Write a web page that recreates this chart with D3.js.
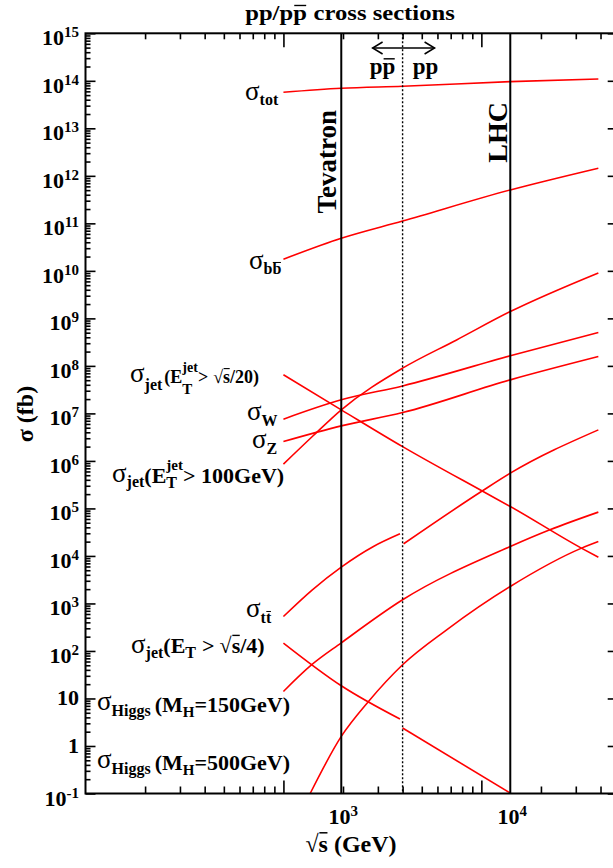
<!DOCTYPE html>
<html>
<head>
<meta charset="utf-8">
<script src="https://cdn.jsdelivr.net/npm/d3@7"></script>
<style>
  body { margin: 0; background: #fff; }
  text { font-family: "Liberation Serif", "Times New Roman", serif; fill: #000; }
</style>
</head>
<body>
<svg id="chart" width="613" height="868" font-family="Liberation Serif, Times New Roman, serif"></svg>
<script>
// ---- data: sqrt(s) in GeV, sigma in fb ----
const xDomain = [100, 50000];
const yDomain = [0.1, 1e15];

const tevatronE = 1960;     // Tevatron sqrt(s)
const lhcE = 14000;         // LHC sqrt(s)
const switchE = 4000;       // p-pbar below, p-p above

const sigmaTot      = [[1000,5.74e13],[1960,6.97e13],[4000,7.67e13],[14000,9.6e13],[39000,1.09e14]];
const sigmaBB       = [[1000,1.76e10],[1960,4.86e10],[4000,1.12e11],[14000,5.05e11],[39000,1.45e12]];
const sigmaJetS20   = [[1000,6.5e7],[1960,1.19e7],[4000,2.0e6],[10000,2.38e5],[14000,1.1e5],[32000,1.46e4],[39000,9.4e3]];
const sigmaW        = [[1000,7.57e6],[1960,1.93e7],[4000,3.79e7],[14000,1.63e8],[39000,5.02e8]];
const sigmaZ        = [[1000,2.56e6],[1960,5.47e6],[4000,1.04e7],[14000,5.08e7],[39000,1.57e8]];
const sigmaJet100   = [[1000,8.55e5],[1400,3.26e6],[1960,1.19e7],[4000,8.95e7],[7500,3.52e8],[14000,1.39e9],[39000,9.05e9]];
const sigmaTTppbar  = [[1000,532],[1400,1.94e3],[1960,5.82e3],[2850,1.58e4],[3880,2.92e4]];
const sigmaTTpp     = [[4050,1.8e4],[10000,2.27e5],[14000,5.52e5],[39000,4.5e6]];
const sigmaJetS4ppbar = [[1000,146.6],[1960,18.5],[3880,3.69]];
const sigmaJetS4pp    = [[4000,2.39],[14000,0.102]];
const sigmaH150     = [[1000,14.06],[1390,51.3],[1960,148],[4000,1194],[14000,1.58e4],[22200,3.55e4],[39000,8.36e4]];
const sigmaH500     = [[1365,0.1],[1960,1.59],[2690,8.65],[4000,51.3],[6680,279],[14000,2280],[32100,1.46e4],[39000,2.01e4]];

const curves = [sigmaTot, sigmaBB, sigmaJetS20, sigmaW, sigmaZ, sigmaJet100,
                sigmaTTppbar, sigmaTTpp, sigmaJetS4ppbar, sigmaJetS4pp, sigmaH150, sigmaH500];

// axis tick values
const xMajorTicks = [1000, 10000];
const xMinorTicks = [];
[100, 1000, 10000].forEach(d => d3.range(2, 10).forEach(m => { if (d * m < xDomain[1]) xMinorTicks.push(d * m); }));
const yExponents = d3.range(-1, 16);
const yMajorTicks = yExponents.map(e => Math.pow(10, e));
const yMinorTicks = [];
d3.range(-1, 15).forEach(e => d3.range(2, 10).forEach(m => yMinorTicks.push(m * Math.pow(10, e))));

// labelled x positions on the bottom axis and their powers of ten
const xLabelSites = [tevatronE, lhcE];
const xLabelPowers = ["3", "4"];

// ---- layout ----
const svg = d3.select("#chart");
const plot = { left: 85.5, right: 619.7, top: 33.3, bottom: 793.5 };
const x = d3.scaleLog().domain(xDomain).range([plot.left, plot.right]);
const y = d3.scaleLog().domain(yDomain).range([plot.bottom, plot.top]);

svg.append("defs").append("clipPath").attr("id", "plotClip")
  .append("rect").attr("x", plot.left).attr("y", plot.top)
  .attr("width", plot.right - plot.left).attr("height", plot.bottom - plot.top);

// curves
const line = d3.line().x(d => x(d[0])).y(d => y(d[1])).curve(d3.curveMonotoneX);
svg.append("g").attr("clip-path", "url(#plotClip)")
  .selectAll("path").data(curves).join("path")
  .attr("d", line).attr("fill", "none").attr("stroke", "#ff0000").attr("stroke-width", 1.6);

// collider lines
[tevatronE, lhcE].forEach(e => {
  svg.append("line").attr("x1", x(e)).attr("x2", x(e)).attr("y1", plot.top).attr("y2", plot.bottom)
    .attr("stroke", "#000").attr("stroke-width", 2);
});
svg.append("line").attr("x1", x(switchE)).attr("x2", x(switchE)).attr("y1", plot.top).attr("y2", plot.bottom)
  .attr("stroke", "#000").attr("stroke-width", 1.4).attr("stroke-dasharray", "2,2");

// ticks
function tickSet(axis, values, size, transform) {
  const g = svg.append("g").attr("transform", transform)
    .call(axis.tickValues(values).tickSize(size).tickFormat(""));
  g.select(".domain").remove();
  g.selectAll("line").attr("stroke", "#000").attr("stroke-width", 1.6);
}
tickSet(d3.axisTop(x), xMajorTicks, 13, `translate(0,${plot.bottom})`);
tickSet(d3.axisTop(x), xMinorTicks, 7, `translate(0,${plot.bottom})`);
tickSet(d3.axisBottom(x), xMajorTicks, 14, `translate(0,${plot.top})`);
tickSet(d3.axisBottom(x), xMinorTicks, 6, `translate(0,${plot.top})`);
tickSet(d3.axisRight(y), yMajorTicks, 10, `translate(${plot.left},0)`);
tickSet(d3.axisRight(y), yMinorTicks, 5, `translate(${plot.left},0)`);
tickSet(d3.axisLeft(y), yMajorTicks, 12, `translate(${plot.right},0)`);

// frame
svg.append("rect").attr("x", plot.left).attr("y", plot.top)
  .attr("width", plot.right - plot.left).attr("height", plot.bottom - plot.top)
  .attr("fill", "none").attr("stroke", "#000").attr("stroke-width", 2);

// y tick labels
yExponents.forEach(e => {
  const t = svg.append("text").attr("text-anchor", "end").attr("x", 79)
    .style("font-size", "22px").style("font-weight", "bold");
  if (e === 0 || e === 1) {
    t.attr("y", y(Math.pow(10, e)) + 7).text(e === 0 ? "1" : "10");
  } else {
    t.attr("y", y(Math.pow(10, e)) + 12);
    t.append("tspan").text("10");
    t.append("tspan").attr("dy", -8).style("font-size", "15px").text(String(e));
  }
});

// x tick labels
xLabelSites.forEach((v, i) => {
  const t = svg.append("text").attr("text-anchor", "middle").attr("x", x(v) + 2).attr("y", 824)
    .style("font-size", "22px").style("font-weight", "bold");
  t.append("tspan").text("10");
  t.append("tspan").attr("dy", -8).style("font-size", "15px").text(xLabelPowers[i]);
});

// rich text: sequential segments with sub/superscripts, stacked pairs and bars
function richText(segs, opts) {
  const outer = svg.append("g");
  const g = outer.append("g");
  let cx = 0, stackW = 0;
  segs.forEach(s => {
    const size = s.size || opts.size || 22;
    const gap = s.gap || 0;
    const t = g.append("text").attr("x", cx + gap).attr("y", s.dy || 0)
      .style("font-size", size + "px").style("font-weight", s.weight || "bold").text(s.t);
    const w = t.node().getComputedTextLength();
    if (s.bar) {
      const by = (s.dy || 0) - size * (s.barH || 0.72);
      g.append("line").attr("x1", cx + gap + w * 0.08).attr("x2", cx + gap + w * 0.95)
        .attr("y1", by).attr("y2", by).attr("stroke", "#000").attr("stroke-width", Math.max(1, size / 16));
    }
    if (s.stack) { stackW = Math.max(stackW, w + gap); }
    else { cx += Math.max(w + gap, stackW); stackW = 0; }
  });
  const sx = opts.sx || 1;
  const width = cx * sx;
  let tx = opts.x;
  if (opts.anchor === "middle") tx -= width / 2;
  if (opts.anchor === "end") tx -= width;
  outer.attr("transform", `translate(${tx},${opts.y})`);
  g.attr("transform", `scale(${sx},1)`);
  return outer;
}

const sig = { t: "σ", size: 27, weight: "normal" };

// title
richText([{ t: "pp/p" }, { t: "p", bar: true, barH: 0.66 }, { t: "cross sections", gap: 6 }],
  { x: 350, y: 20, anchor: "middle", size: 22, sx: 1.12 });

// axis titles
richText([{ t: "√", weight: "normal" }, { t: "s", bar: true, barH: 0.8 }, { t: "(GeV)", gap: 6 }],
  { x: 351, y: 852, anchor: "middle", size: 24 });
svg.append("text").attr("transform", "translate(33,414) rotate(-90)").attr("text-anchor", "middle")
  .style("font-size", "24px").style("font-weight", "bold").text("σ (fb)");

// collider names
svg.append("text").attr("transform", `translate(${x(tevatronE) - 5},110) rotate(-90)`).attr("text-anchor", "end")
  .style("font-size", "27px").style("font-weight", "bold").text("Tevatron");
svg.append("text").attr("transform", `translate(${x(lhcE) - 3},102) rotate(-90)`).attr("text-anchor", "end")
  .style("font-size", "28px").style("font-weight", "bold").text("LHC");

// p-pbar / p-p arrow
const arrowY = 48, aL = x(switchE) - 30, aR = x(switchE) + 32;
svg.append("line").attr("x1", aL).attr("x2", aR).attr("y1", arrowY).attr("y2", arrowY)
  .attr("stroke", "#000").attr("stroke-width", 1.5);
svg.append("path").attr("d", `M${aL + 10},${arrowY - 6}L${aL},${arrowY}L${aL + 10},${arrowY + 6}`)
  .attr("fill", "none").attr("stroke", "#000").attr("stroke-width", 1.5);
svg.append("path").attr("d", `M${aR - 10},${arrowY - 6}L${aR},${arrowY}L${aR - 10},${arrowY + 6}`)
  .attr("fill", "none").attr("stroke", "#000").attr("stroke-width", 1.5);
richText([{ t: "p" }, { t: "p", bar: true, barH: 0.66 }], { x: x(switchE) - 20, y: 74, anchor: "middle", size: 23 });
richText([{ t: "pp" }], { x: x(switchE) + 23, y: 74, anchor: "middle", size: 23 });

// curve labels
richText([sig, { t: "tot", size: 16, dy: 5 }], { x: 245, y: 100 });
richText([sig, { t: "b", size: 16, dy: 5 }, { t: "b", size: 16, dy: 5, bar: true }], { x: 249, y: 269 });
richText([sig, { t: "jet", size: 16, dy: 8 }, { t: "(E", size: 18, dy: 1, gap: 2 },
          { t: "jet", size: 14, dy: -10, stack: true }, { t: "T", size: 15, dy: 12 },
          { t: ">", size: 18, dy: 1 }, { t: "√", size: 18, dy: 1, gap: 5, weight: "normal" },
          { t: "s", size: 18, dy: 1, bar: true, barH: 0.8 }, { t: "/20)", size: 18, dy: 1 }],
  { x: 130, y: 382 });
richText([sig, { t: "W", size: 16, dy: 6 }], { x: 247, y: 420 });
richText([sig, { t: "Z", size: 16, dy: 6 }], { x: 252, y: 448 });
richText([sig, { t: "jet", size: 16, dy: 5 }, { t: "(E", size: 22, dy: 1 },
          { t: "jet", size: 15, dy: -12, stack: true }, { t: "T", size: 16, dy: 6 },
          { t: "> 100GeV)", size: 22, dy: 1 }],
  { x: 112, y: 482 });
richText([sig, { t: "t", size: 16, dy: 6 }, { t: "t", size: 16, dy: 6, bar: true }], { x: 246, y: 617 });
richText([sig, { t: "jet", size: 16, dy: 5 }, { t: "(E", size: 22 }, { t: "T", size: 16, dy: 5 },
          { t: ">", size: 22, gap: 6 }, { t: "√", size: 22, gap: 5, weight: "normal" },
          { t: "s", size: 22, bar: true, barH: 0.8 }, { t: "/4)", size: 22 }],
  { x: 131, y: 653 });
richText([sig, { t: "Higgs", size: 16, dy: 6 }, { t: "(M", size: 22, dy: 2, gap: 4 }, { t: "H", size: 15, dy: 7 },
          { t: "=150GeV)", size: 22, dy: 2 }],
  { x: 97, y: 710 });
richText([sig, { t: "Higgs", size: 16, dy: 6 }, { t: "(M", size: 22, dy: 2, gap: 4 }, { t: "H", size: 15, dy: 7 },
          { t: "=500GeV)", size: 22, dy: 2 }],
  { x: 97, y: 768 });
</script>
</body>
</html>
